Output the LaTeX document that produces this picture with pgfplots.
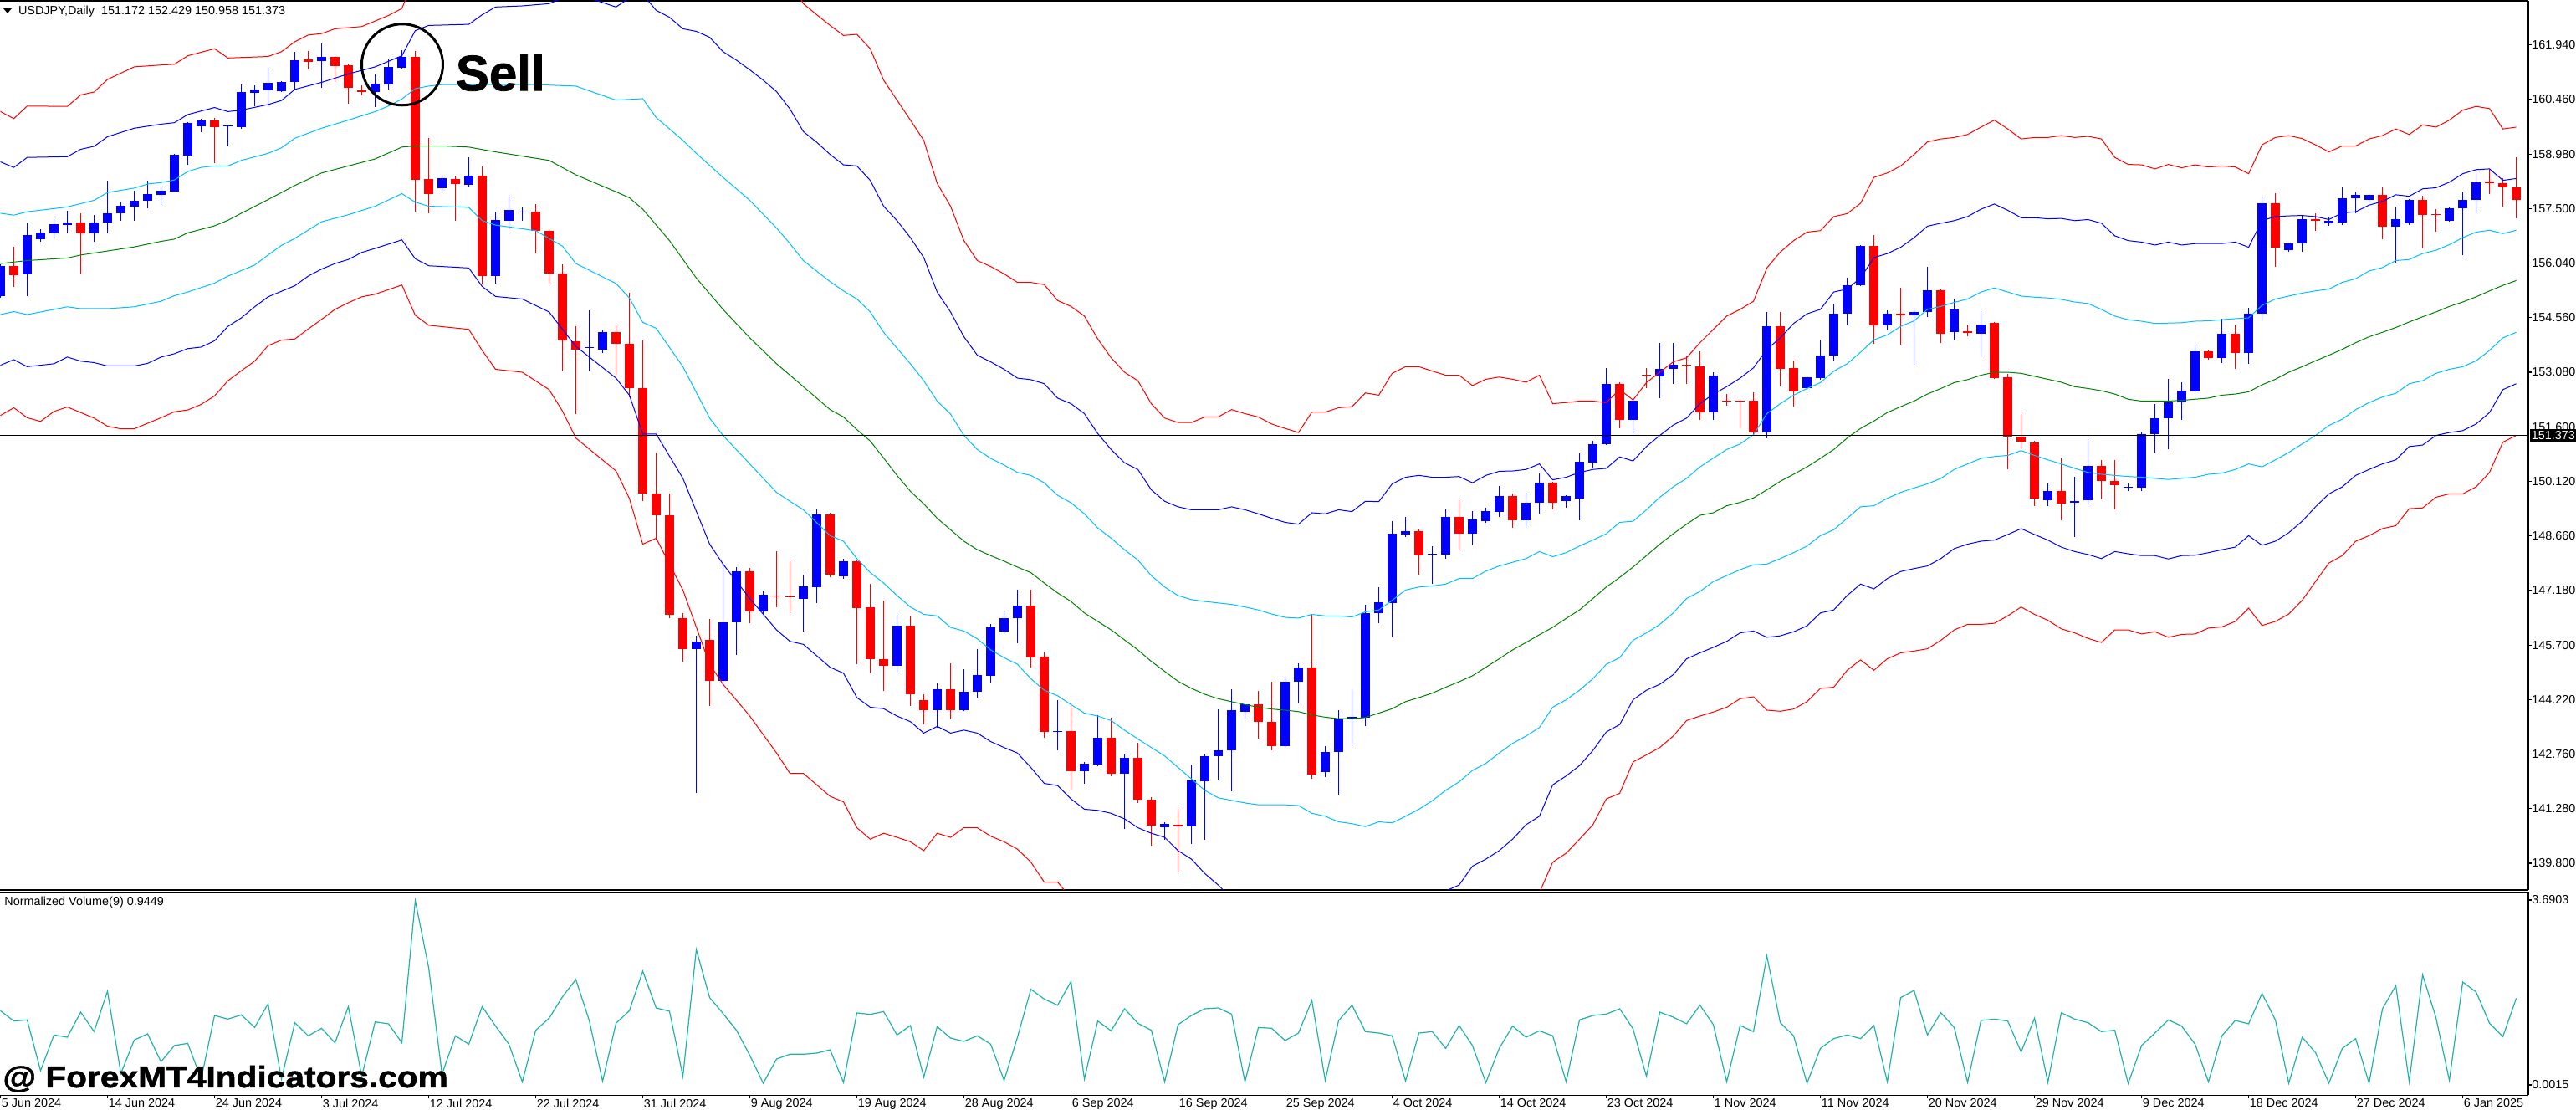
\documentclass[border=0pt]{standalone}
\usepackage{fontspec}
\setmainfont{Liberation Sans}
\newfontfamily\heavyfont{Liberation Sans Bold}[FakeBold=1.3]
\usepackage{graphicx}
\usepackage{pgfplots}
\pgfplotsset{compat=1.18}
\usepackage{pgfplotstable}

\definecolor{cblue}{RGB}{0,0,255}
\definecolor{cred}{RGB}{255,0,0}
\definecolor{ccyan}{RGB}{0,191,255}
\definecolor{cgreen}{RGB}{0,128,0}
\definecolor{cvol}{RGB}{32,178,170}
\newcommand{\smallfont}{\fontsize{7.2}{8}\selectfont}

\pgfplotstableread{
x o h l c
0 155.15 156.00 155.10 155.95
2 155.72 157.11 155.15 156.79
3 156.68 156.95 156.60 156.86
4 156.84 157.21 156.72 157.08
5 157.07 157.44 156.83 157.14
7 156.83 157.33 156.60 157.14
8 157.14 158.27 156.83 157.39
9 157.39 157.70 157.17 157.58
10 157.57 157.98 157.18 157.72
11 157.71 158.25 157.52 157.90
12 157.88 158.10 157.61 157.99
13 157.97 158.98 157.96 158.96
14 158.95 159.84 158.68 159.82
15 159.74 159.94 159.58 159.90
17 159.73 159.77 159.19 159.76
18 159.72 160.86 159.66 160.66
19 160.64 160.84 160.28 160.72
20 160.71 161.31 160.26 160.91
21 160.69 160.96 160.67 160.94
22 160.93 161.74 160.71 161.52
24 161.50 161.97 160.77 161.61
28 160.65 161.13 160.26 160.88
29 160.87 161.54 160.73 161.34
30 161.31 161.80 161.29 161.61
33 158.06 158.43 157.97 158.32
35 158.15 158.89 158.11 158.39
37 155.68 157.42 155.47 157.20
38 157.17 157.88 156.95 157.48
39 157.40 157.54 157.17 157.43
44 153.73 154.75 153.11 153.76
45 153.70 154.24 153.59 154.16
52 145.60 145.95 141.69 145.80
54 144.74 147.89 144.56 146.31
55 146.31 147.81 145.44 147.70
57 146.62 147.15 146.54 147.07
60 146.96 147.60 146.06 147.29
61 147.27 149.39 146.84 149.24
63 147.56 148.04 147.50 147.97
67 145.13 146.53 144.93 146.22
70 143.94 144.67 143.47 144.51
72 143.94 145.05 143.91 144.43
73 144.43 145.60 144.28 144.90
74 144.87 146.26 144.68 146.18
75 146.06 146.62 146.01 146.42
76 146.42 147.19 145.75 146.76
79 143.35 144.22 142.85 143.38
81 142.28 142.54 141.96 142.50
82 142.47 143.81 142.42 143.19
84 142.23 142.73 140.72 142.65
87 140.78 140.90 140.44 140.86
89 140.79 142.47 140.33 142.03
90 142.01 142.76 140.44 142.70
91 142.70 143.97 142.05 142.85
92 142.85 144.51 141.74 143.94
93 143.89 144.10 143.69 144.09
96 142.96 144.87 142.92 144.72
97 144.72 145.21 144.12 145.10
99 142.27 142.96 142.14 142.81
100 142.81 143.94 141.65 143.71
101 143.72 144.51 142.96 143.75
102 143.74 146.80 143.52 146.57
103 146.57 147.27 146.29 146.85
104 146.83 149.05 145.91 148.71
105 148.70 149.16 148.62 148.79
107 148.15 148.38 147.35 148.18
108 148.15 149.36 148.04 149.16
110 148.71 149.32 148.40 149.10
111 149.05 149.42 149.00 149.33
112 149.31 150.01 149.16 149.73
114 149.08 149.83 148.87 149.56
115 149.56 150.35 149.25 150.10
117 149.60 149.76 149.42 149.73
118 149.67 150.88 149.08 150.65
119 150.63 151.22 150.48 151.13
120 151.14 153.20 151.11 152.77
122 151.79 152.38 151.44 152.30
124 152.97 153.88 152.38 153.16
125 153.16 153.88 152.77 153.28
128 151.99 153.08 151.79 153.00
132 151.45 154.71 151.30 154.32
135 152.64 152.97 152.61 152.94
136 152.92 153.96 152.88 153.53
137 153.53 154.94 153.39 154.67
138 154.67 155.63 154.35 155.43
139 155.43 156.52 155.40 156.50
141 154.35 154.75 154.21 154.66
143 154.63 154.83 153.28 154.71
144 154.71 155.93 154.58 155.29
146 154.16 155.06 153.96 154.77
148 154.13 154.74 153.54 154.38
153 149.62 150.06 149.47 149.87
155 149.56 150.26 148.63 149.60
156 149.61 151.27 149.53 150.55
159 149.96 150.06 149.86 149.99
160 149.95 151.45 149.86 151.41
161 151.41 152.23 150.91 151.84
162 151.84 152.89 150.99 152.27
163 152.27 152.80 151.79 152.58
164 152.57 153.82 152.54 153.65
166 153.47 154.52 153.34 154.12
168 153.59 154.83 153.31 154.67
169 154.67 157.80 154.47 157.65
171 156.38 156.59 156.33 156.56
172 156.56 157.31 156.33 157.21
174 157.10 157.29 157.03 157.17
175 157.12 158.08 157.07 157.79
176 157.79 157.96 157.39 157.88
177 157.73 157.90 157.65 157.88
179 157.01 157.57 156.05 157.23
180 157.11 157.77 157.07 157.73
183 157.18 157.54 157.15 157.52
184 157.51 157.96 156.24 157.73
185 157.73 158.47 157.37 158.22
}\upc

\pgfplotstableread{
x o h l c
1 155.95 156.47 155.38 155.70
6 157.12 157.39 155.73 156.83
16 159.90 159.96 158.74 159.72
23 161.54 161.76 161.27 161.48
25 161.61 161.64 160.93 161.37
26 161.38 161.42 160.34 160.78
27 160.71 160.83 160.57 160.65
31 161.61 161.77 157.42 158.28
32 158.30 159.42 157.38 157.91
34 158.30 158.40 157.18 158.17
36 158.40 158.64 155.45 155.68
40 157.42 157.63 156.29 156.91
41 156.91 156.95 155.46 155.76
42 155.76 155.99 153.11 153.93
43 153.92 154.32 151.96 153.70
46 154.16 154.36 153.00 153.84
47 153.84 155.23 152.41 152.64
48 152.66 153.93 149.59 149.80
49 149.80 150.91 148.54 149.21
50 149.21 149.80 146.42 146.53
51 146.43 146.57 145.26 145.60
53 145.83 146.40 144.05 144.74
56 147.70 147.78 146.29 146.62
58 147.05 148.23 146.73 147.02
59 147.02 147.97 146.57 146.99
62 149.24 149.28 147.53 147.61
64 147.97 148.01 145.18 146.71
65 146.73 147.35 144.93 145.33
66 145.33 146.91 144.45 145.13
68 146.22 146.49 144.05 144.37
69 144.22 144.36 143.55 143.94
71 144.51 145.21 143.69 143.94
77 146.76 147.19 145.10 145.36
78 145.38 145.53 143.19 143.35
80 143.38 144.05 141.80 142.28
83 143.19 143.74 142.16 142.23
85 142.65 143.05 141.43 141.51
86 141.51 141.58 140.28 140.82
88 140.84 141.26 139.58 140.80
94 144.09 144.47 143.16 143.63
95 143.63 144.72 142.85 142.96
98 145.10 146.53 142.08 142.19
106 148.79 148.82 147.61 148.12
109 149.16 149.62 148.28 148.71
113 149.73 149.80 148.87 149.08
116 150.10 150.12 149.36 149.54
121 152.77 152.80 151.56 151.79
123 153.02 153.19 152.65 152.98
126 153.29 153.50 152.77 153.26
127 153.23 153.65 151.79 151.99
129 152.31 152.49 152.18 152.28
130 152.31 152.32 151.56 152.28
131 152.30 152.54 151.37 151.45
133 154.32 154.71 152.69 153.16
134 153.19 153.39 152.15 152.57
140 156.50 156.78 153.85 154.35
142 154.66 155.37 153.82 154.63
145 155.29 155.33 153.88 154.13
147 154.20 154.38 154.05 154.15
149 154.41 154.44 152.89 152.92
150 152.95 153.03 150.45 151.34
151 151.34 151.96 150.99 151.20
152 151.19 151.22 149.47 149.67
154 149.87 150.76 149.08 149.52
157 150.55 150.71 149.64 150.13
158 150.13 150.71 149.36 150.03
165 153.65 153.70 153.42 153.47
167 154.12 154.36 153.16 153.59
170 157.65 157.93 155.94 156.44
173 157.21 157.39 156.91 157.18
178 157.88 158.08 156.67 157.01
181 157.73 157.85 156.44 157.34
182 157.36 157.49 156.87 157.33
186 158.24 158.58 157.91 158.20
187 158.19 158.32 157.57 158.07
188 158.07 158.89 157.25 157.73
}\dnc

\begin{document}
\begin{tikzpicture}
\useasboundingbox (0pt,0pt) rectangle (1540pt,663.5pt);

\begin{axis}[
  at={(0pt,131.5pt)}, anchor=south west, scale only axis,
  width=1511.5pt, height=531.5pt,
  xmin=-0.031, xmax=188.9, ymin=139.076, ymax=163.126,
  axis x line*=box, axis y line*=right,
  axis line style={black, line width=0.6pt},
  xtick=\empty,
  ytick={139.80,141.28,142.76,144.22,145.70,147.18,148.66,150.12,151.60,153.08,154.56,156.04,157.50,158.98,160.46,161.94},
  yticklabels={139.800,141.280,142.760,144.220,145.700,147.180,148.660,150.120,151.600,153.080,154.560,156.040,157.500,158.980,160.460,161.940},
  tick align=outside, major tick length=2pt,
  major tick style={black, line width=0.6pt},
  yticklabel style={font=\smallfont, anchor=west, inner sep=0pt},
  clip mode=individual,
]
% candles: wicks then bodies
\addplot[cblue, line width=0.7pt, mark=none, quiver={u=0, v=\thisrow{h}-\thisrow{l}}] table[x=x, y=l] {\upc};
\addplot[cred, line width=0.7pt, mark=none, quiver={u=0, v=\thisrow{h}-\thisrow{l}}] table[x=x, y=l] {\dnc};
\addplot[cblue, line width=5.25pt, mark=none, quiver={u=0, v=\thisrow{c}-\thisrow{o}}] table[x=x, y=o] {\upc};
\addplot[cred, line width=5.25pt, mark=none, quiver={u=0, v=\thisrow{c}-\thisrow{o}}] table[x=x, y=o] {\dnc};

% red upper
\addplot[cred, line width=0.5pt, mark=none] coordinates {(0,160.13) (1,159.94) (2,160.28) (5,160.27) (6,160.58) (7,160.66) (8,161.00) (10,161.34) (12,161.39) (13,161.41) (14,161.64) (16,161.83) (17,161.58) (20,161.62) (21,161.75) (22,162.02) (23,162.20) (24,162.24) (25,162.37) (27,162.43) (28,162.58) (29,162.73) (30,162.92) (31,163.80) (35,164.10) (41,165.00) (45,165.30) (50,165.40) (55,164.60) (59,163.70) (60,163.05) (61,162.75) (62,162.46) (63,162.19) (64,162.22) (65,161.83) (66,160.98) (67,160.44) (68,159.90) (69,159.35) (70,158.19) (71,157.57) (72,156.64) (73,156.10) (74,155.94) (75,155.74) (76,155.51) (77,155.51) (78,155.45) (79,155.02) (80,154.86) (81,154.60) (82,153.98) (83,153.47) (84,153.08) (85,152.85) (86,152.23) (87,151.84) (88,151.72) (89,151.72) (90,151.87) (91,151.87) (92,152.07) (93,151.96) (94,151.87) (95,151.68) (96,151.56) (97,151.45) (98,152.00) (99,152.00) (100,152.12) (101,152.15) (102,152.52) (103,152.46) (104,153.05) (105,153.23) (106,153.23) (107,153.11) (108,153.00) (109,153.00) (110,152.72) (111,152.89) (112,152.95) (113,152.89) (114,152.81) (115,153.00) (116,152.23) (117,152.26) (118,152.30) (119,152.30) (120,152.26) (121,152.61) (122,152.33) (123,152.80) (124,153.08) (125,153.36) (126,153.47) (127,153.88) (128,154.24) (129,154.60) (130,154.78) (131,155.00) (132,155.90) (133,156.33) (134,156.64) (135,156.87) (136,156.91) (137,157.29) (138,157.37) (139,157.65) (140,158.35) (141,158.47) (142,158.66) (143,158.97) (144,159.31) (145,159.39) (146,159.43) (147,159.51) (148,159.71) (149,159.90) (150,159.66) (151,159.39) (152,159.43) (153,159.43) (154,159.48) (155,159.43) (156,159.46) (157,159.39) (158,158.89) (159,158.70) (160,158.69) (161,158.58) (162,158.70) (163,158.61) (164,158.69) (165,158.63) (166,158.66) (167,158.63) (168,158.45) (169,159.23) (170,159.43) (171,159.48) (172,159.40) (173,159.23) (174,159.04) (175,159.20) (176,159.20) (177,159.39) (178,159.48) (179,159.66) (180,159.51) (181,159.77) (182,159.71) (183,159.90) (184,160.17) (185,160.27) (186,160.21) (187,159.66) (188,159.71)};
% blue upper
\addplot[cblue, line width=0.5pt, mark=none] coordinates {(0,158.77) (1,158.62) (2,158.89) (5,158.91) (6,159.11) (7,159.19) (8,159.45) (10,159.68) (12,159.79) (13,159.83) (14,160.05) (16,160.24) (17,160.13) (18,160.17) (20,160.32) (21,160.43) (22,160.73) (24,160.92) (26,161.15) (28,161.34) (29,161.49) (30,161.64) (31,162.32) (32,162.46) (35,162.49) (36,162.75) (37,162.96) (39,162.99) (41,163.05) (42,163.20) (44,163.20) (45,163.08) (46,162.96) (47,163.20) (48,163.30) (49,162.87) (50,162.68) (51,162.37) (52,162.30) (53,162.14) (54,161.75) (55,161.52) (56,161.26) (57,160.98) (58,160.67) (59,160.20) (60,159.59) (61,159.30) (62,158.97) (63,158.69) (64,158.66) (65,158.27) (66,157.57) (67,157.18) (68,156.72) (69,156.18) (70,155.25) (71,154.71) (72,154.04) (73,153.54) (74,153.36) (75,153.16) (76,152.92) (77,152.88) (78,152.77) (79,152.38) (80,152.23) (81,151.96) (82,151.42) (83,150.99) (84,150.63) (85,150.45) (86,149.90) (87,149.59) (88,149.44) (89,149.36) (90,149.36) (91,149.36) (92,149.44) (93,149.36) (94,149.25) (95,149.13) (96,149.02) (97,148.97) (98,149.28) (99,149.25) (100,149.36) (101,149.31) (102,149.59) (103,149.58) (104,150.06) (105,150.24) (106,150.29) (107,150.24) (108,150.24) (109,150.26) (110,150.09) (111,150.29) (112,150.40) (113,150.41) (114,150.45) (115,150.60) (116,150.17) (117,150.24) (118,150.37) (119,150.45) (120,150.48) (121,150.79) (122,150.68) (123,151.07) (124,151.37) (125,151.65) (126,151.84) (127,152.23) (128,152.49) (129,152.69) (130,152.92) (131,153.20) (132,153.70) (133,154.01) (134,154.40) (135,154.66) (136,154.78) (137,155.25) (138,155.33) (139,155.63) (140,156.18) (141,156.29) (142,156.46) (143,156.72) (144,157.03) (145,157.11) (146,157.18) (147,157.29) (148,157.49) (149,157.63) (150,157.46) (151,157.26) (152,157.26) (153,157.23) (154,157.24) (155,157.18) (156,157.21) (157,157.11) (158,156.77) (159,156.64) (160,156.60) (161,156.52) (162,156.60) (163,156.52) (164,156.56) (165,156.56) (166,156.56) (167,156.60) (168,156.46) (169,157.18) (170,157.29) (171,157.31) (172,157.32) (173,157.29) (174,157.21) (175,157.39) (176,157.42) (177,157.60) (178,157.70) (179,157.88) (180,157.84) (181,158.04) (182,158.07) (183,158.22) (184,158.45) (185,158.56) (186,158.58) (187,158.27) (188,158.32)};
% cyan upper
\addplot[ccyan, line width=0.5pt, mark=none] coordinates {(0,157.38) (1,157.33) (2,157.42) (5,157.55) (7,157.73) (8,157.94) (10,158.06) (11,158.17) (12,158.21) (13,158.28) (14,158.51) (15,158.62) (16,158.66) (17,158.66) (18,158.81) (20,159.00) (21,159.15) (22,159.41) (24,159.68) (26,159.90) (28,160.13) (29,160.28) (30,160.47) (31,160.75) (32,160.82) (33,160.86) (40,160.86) (43,160.82) (46,160.44) (48,160.48) (49,159.97) (51,159.35) (52,159.00) (54,158.35) (56,157.73) (58,156.98) (59,156.56) (60,156.10) (62,155.53) (63,155.28) (64,155.06) (65,154.71) (66,154.16) (67,153.73) (68,153.31) (69,152.85) (70,152.30) (71,151.95) (72,151.37) (73,150.99) (74,150.75) (75,150.57) (76,150.37) (77,150.29) (78,150.09) (79,149.75) (80,149.55) (81,149.25) (82,148.87) (83,148.59) (84,148.28) (85,148.00) (86,147.58) (87,147.27) (88,147.04) (89,146.93) (90,146.88) (91,146.84) (92,146.80) (93,146.73) (94,146.65) (95,146.54) (96,146.45) (97,146.43) (98,146.53) (99,146.49) (100,146.49) (101,146.46) (102,146.60) (103,146.65) (104,146.91) (105,147.19) (106,147.27) (107,147.30) (108,147.35) (109,147.50) (110,147.50) (111,147.70) (112,147.84) (113,147.94) (114,148.04) (115,148.23) (116,148.09) (117,148.20) (118,148.38) (119,148.54) (120,148.71) (121,149.02) (122,149.05) (123,149.36) (124,149.70) (125,149.98) (126,150.21) (127,150.52) (128,150.76) (129,150.99) (130,151.14) (131,151.39) (132,151.96) (133,152.23) (134,152.46) (135,152.64) (136,152.80) (137,153.11) (138,153.31) (139,153.62) (140,153.96) (141,154.09) (142,154.32) (143,154.47) (144,154.78) (145,154.86) (146,154.97) (147,155.06) (148,155.25) (149,155.36) (150,155.25) (151,155.14) (152,155.11) (153,155.09) (154,155.05) (155,154.98) (156,154.94) (157,154.78) (158,154.60) (159,154.50) (160,154.46) (161,154.40) (162,154.41) (163,154.42) (164,154.46) (165,154.47) (166,154.50) (167,154.53) (168,154.55) (169,154.89) (170,155.06) (171,155.14) (172,155.22) (173,155.28) (174,155.33) (175,155.51) (176,155.61) (177,155.82) (178,155.91) (179,156.10) (180,156.13) (181,156.29) (182,156.38) (183,156.53) (184,156.72) (185,156.87) (186,156.92) (187,156.83) (188,156.92)};
% green middle
\addplot[cgreen, line width=0.5pt, mark=none] coordinates {(0,156.02) (2,156.10) (5,156.17) (6,156.25) (8,156.36) (10,156.47) (12,156.62) (13,156.68) (14,156.85) (16,157.04) (17,157.19) (18,157.38) (20,157.75) (22,158.13) (24,158.47) (26,158.66) (28,158.85) (30,159.17) (31,159.20) (33,159.20) (35,159.17) (37,159.04) (41,158.81) (43,158.42) (46,157.96) (47,157.80) (48,157.49) (50,156.64) (52,155.63) (54,154.78) (56,154.01) (58,153.31) (60,152.69) (62,152.07) (63,151.87) (64,151.53) (65,151.22) (66,150.76) (67,150.29) (68,149.86) (69,149.52) (70,149.13) (71,148.82) (72,148.51) (73,148.28) (74,148.12) (75,147.97) (76,147.81) (77,147.66) (78,147.38) (79,147.11) (80,146.88) (81,146.57) (82,146.34) (83,146.11) (84,145.84) (85,145.57) (86,145.26) (87,144.99) (88,144.72) (89,144.53) (90,144.37) (91,144.25) (92,144.17) (93,144.09) (94,144.02) (95,143.97) (96,143.94) (97,143.90) (98,143.81) (99,143.75) (100,143.71) (101,143.71) (102,143.74) (103,143.86) (104,143.98) (105,144.17) (106,144.28) (107,144.40) (108,144.56) (109,144.71) (110,144.87) (111,145.10) (112,145.33) (113,145.57) (114,145.77) (115,145.98) (116,146.18) (117,146.42) (118,146.65) (119,146.96) (120,147.27) (121,147.53) (122,147.81) (123,148.12) (124,148.43) (125,148.71) (126,148.97) (127,149.21) (128,149.28) (129,149.47) (130,149.56) (131,149.68) (132,149.90) (133,150.13) (134,150.32) (135,150.52) (136,150.75) (137,150.99) (138,151.30) (139,151.56) (140,151.76) (141,151.99) (142,152.15) (143,152.30) (144,152.49) (145,152.64) (146,152.80) (147,152.88) (148,153.00) (149,153.08) (150,153.08) (151,153.05) (152,152.97) (153,152.89) (154,152.81) (155,152.69) (156,152.64) (157,152.58) (158,152.49) (159,152.35) (160,152.30) (161,152.30) (162,152.30) (163,152.32) (164,152.35) (165,152.38) (166,152.46) (167,152.49) (168,152.55) (169,152.74) (170,152.89) (171,153.08) (172,153.23) (173,153.39) (174,153.54) (175,153.70) (176,153.88) (177,154.04) (178,154.16) (179,154.29) (180,154.44) (181,154.58) (182,154.71) (183,154.86) (184,154.98) (185,155.12) (186,155.28) (187,155.43) (188,155.56)};
% cyan lower
\addplot[ccyan, line width=0.5pt, mark=none] coordinates {(0,154.64) (1,154.72) (2,154.64) (5,154.85) (6,154.80) (8,154.80) (10,154.85) (12,155.00) (13,155.15) (14,155.25) (16,155.49) (17,155.68) (18,155.83) (19,155.98) (20,156.25) (21,156.51) (22,156.70) (24,157.15) (26,157.34) (28,157.57) (30,157.91) (31,157.68) (32,157.57) (35,157.54) (36,157.18) (37,157.06) (40,156.91) (42,156.49) (43,156.02) (46,155.48) (47,155.09) (48,154.43) (49,154.27) (51,153.23) (53,151.84) (54,151.37) (56,150.60) (58,149.83) (59,149.59) (60,149.36) (62,148.66) (63,148.51) (64,148.04) (65,147.66) (66,147.38) (67,147.04) (68,146.73) (69,146.53) (70,146.49) (71,146.18) (72,146.08) (73,145.87) (74,145.57) (75,145.36) (76,145.18) (77,144.79) (78,144.48) (79,144.33) (80,144.09) (81,143.86) (82,143.78) (83,143.66) (84,143.40) (85,143.16) (86,142.93) (87,142.70) (88,142.39) (89,142.08) (90,141.77) (91,141.57) (92,141.50) (93,141.43) (94,141.38) (95,141.38) (96,141.38) (97,141.36) (98,141.15) (99,141.07) (100,140.92) (101,140.87) (102,140.79) (103,140.92) (104,140.89) (105,141.07) (106,141.26) (107,141.49) (108,141.77) (109,142.00) (110,142.31) (111,142.50) (112,142.78) (113,143.04) (114,143.24) (115,143.47) (116,144.02) (117,144.22) (118,144.48) (119,144.79) (120,145.18) (121,145.36) (122,145.83) (123,146.03) (124,146.26) (125,146.57) (126,146.96) (127,147.15) (128,147.42) (129,147.58) (130,147.74) (131,147.87) (132,147.89) (133,148.04) (134,148.20) (135,148.38) (136,148.66) (137,148.82) (138,149.13) (139,149.44) (140,149.47) (141,149.67) (142,149.83) (143,149.95) (144,150.06) (145,150.21) (146,150.45) (147,150.60) (148,150.75) (149,150.80) (150,150.83) (151,150.96) (152,150.83) (153,150.71) (154,150.60) (155,150.48) (156,150.37) (157,150.32) (158,150.29) (159,150.26) (160,150.24) (161,150.21) (162,150.18) (163,150.21) (164,150.24) (165,150.32) (166,150.35) (167,150.45) (168,150.60) (169,150.52) (170,150.71) (171,150.91) (172,151.14) (173,151.37) (174,151.64) (175,151.81) (176,152.07) (177,152.26) (178,152.41) (179,152.51) (180,152.77) (181,152.85) (182,153.05) (183,153.16) (184,153.23) (185,153.39) (186,153.67) (187,154.01) (188,154.16)};
% blue lower
\addplot[cblue, line width=0.5pt, mark=none] coordinates {(0,153.27) (1,153.42) (2,153.23) (4,153.31) (5,153.49) (6,153.38) (7,153.34) (8,153.25) (10,153.25) (11,153.32) (12,153.49) (13,153.58) (14,153.72) (15,153.76) (16,153.93) (17,154.32) (18,154.55) (19,154.85) (20,155.12) (21,155.27) (22,155.42) (23,155.68) (24,155.87) (25,156.02) (26,156.13) (27,156.32) (28,156.43) (30,156.66) (31,156.15) (32,155.96) (35,155.90) (36,155.40) (37,155.13) (39,155.06) (41,154.71) (42,154.24) (43,153.78) (46,152.92) (47,152.46) (48,151.41) (49,151.41) (51,150.21) (53,148.43) (54,147.89) (56,146.96) (58,146.11) (59,145.80) (60,145.72) (62,145.10) (63,144.94) (64,144.28) (65,144.02) (66,143.98) (67,143.78) (68,143.63) (69,143.32) (70,143.50) (71,143.32) (72,143.40) (73,143.32) (74,143.09) (75,142.93) (76,142.78) (77,142.39) (78,141.96) (79,141.90) (80,141.54) (81,141.26) (82,141.23) (83,141.15) (84,141.00) (85,140.76) (86,140.61) (87,140.50) (88,140.14) (89,139.91) (90,139.52) (91,139.21) (92,138.85) (96,138.20) (100,137.90) (104,138.20) (107,138.75) (108,139.05) (109,139.21) (110,139.72) (111,139.91) (112,140.14) (113,140.45) (114,140.84) (115,141.07) (116,141.92) (117,142.16) (118,142.44) (119,142.85) (120,143.35) (121,143.55) (122,144.22) (123,144.48) (124,144.64) (125,144.90) (126,145.33) (127,145.49) (128,145.64) (129,145.80) (130,146.03) (131,146.08) (132,145.91) (133,145.95) (134,146.06) (135,146.22) (136,146.57) (137,146.65) (138,147.04) (139,147.35) (140,147.22) (141,147.50) (142,147.69) (143,147.77) (144,147.84) (145,148.04) (146,148.31) (147,148.43) (148,148.51) (149,148.54) (150,148.69) (151,148.85) (152,148.69) (153,148.54) (154,148.35) (155,148.23) (156,148.15) (157,148.04) (158,148.23) (159,148.17) (160,148.12) (161,148.12) (162,148.03) (163,148.12) (164,148.13) (165,148.20) (166,148.28) (167,148.35) (168,148.66) (169,148.40) (170,148.51) (171,148.74) (172,149.05) (173,149.44) (174,149.79) (175,149.98) (176,150.29) (177,150.45) (178,150.60) (179,150.71) (180,151.07) (181,151.11) (182,151.37) (183,151.45) (184,151.50) (185,151.68) (186,151.99) (187,152.61) (188,152.77)};
% red lower
\addplot[cred, line width=0.5pt, mark=none] coordinates {(0,151.91) (1,152.12) (2,151.85) (3,151.75) (4,152.02) (5,152.14) (6,151.99) (7,151.84) (8,151.62) (9,151.55) (10,151.55) (11,151.70) (12,151.85) (13,152.01) (14,152.06) (15,152.21) (16,152.44) (17,152.85) (18,153.12) (19,153.38) (20,153.80) (21,153.95) (22,153.98) (23,154.25) (24,154.51) (25,154.78) (26,154.96) (27,155.12) (28,155.19) (30,155.44) (31,154.62) (32,154.35) (35,154.24) (36,153.67) (37,153.16) (39,153.08) (41,152.61) (42,152.03) (43,151.30) (46,150.41) (47,149.67) (48,148.43) (49,148.59) (51,147.19) (53,145.18) (54,144.64) (56,143.78) (58,142.78) (59,142.23) (60,142.23) (62,141.61) (63,141.46) (64,140.76) (65,140.45) (66,140.61) (67,140.50) (68,140.38) (69,140.14) (70,140.61) (71,140.50) (72,140.76) (73,140.76) (74,140.53) (75,140.38) (76,140.18) (77,139.83) (78,139.29) (79,139.29) (80,138.85) (85,137.80) (90,137.30) (95,137.00) (100,136.80) (105,137.20) (110,137.90) (115,139.00) (116,139.83) (117,140.07) (118,140.45) (119,140.84) (120,141.54) (121,141.69) (122,142.54) (123,142.73) (124,142.93) (125,143.24) (126,143.66) (127,143.78) (128,143.89) (129,144.02) (130,144.25) (131,144.30) (132,143.94) (133,143.91) (134,143.97) (135,144.17) (136,144.53) (137,144.56) (138,145.02) (139,145.30) (140,145.02) (141,145.33) (142,145.49) (143,145.54) (144,145.60) (145,145.83) (146,146.11) (147,146.26) (148,146.26) (149,146.29) (150,146.49) (151,146.73) (152,146.53) (153,146.37) (154,146.14) (155,146.03) (156,145.88) (157,145.77) (158,146.11) (159,146.11) (160,146.00) (161,146.06) (162,145.91) (163,145.99) (164,146.00) (165,146.16) (166,146.19) (167,146.34) (168,146.70) (169,146.23) (170,146.34) (171,146.54) (172,146.91) (173,147.42) (174,147.92) (175,148.12) (176,148.51) (177,148.66) (178,148.85) (179,148.93) (180,149.39) (181,149.41) (182,149.70) (183,149.79) (184,149.79) (185,149.98) (186,150.37) (187,151.19) (188,151.37)};
% current price line
\addplot[black, line width=0.5pt, mark=none] coordinates {(-1,151.373) (190,151.373)};

\draw[black, line width=1.5pt] (axis cs:30.03,161.40) circle[radius=24.25pt];
\node[anchor=base west, inner sep=0pt, font=\fontsize{30}{31}\selectfont\heavyfont] at (axis cs:34.0,160.70) {Sell};
\node[fill=black, text=white, anchor=west, inner sep=0pt, minimum height=7.5pt, minimum width=27.5pt, font=\smallfont, xshift=1pt] at (axis cs:188.9,151.373) {151.373};
\end{axis}

\begin{axis}[
  at={(0pt,8.8pt)}, anchor=south west, scale only axis,
  width=1511.5pt, height=121.55pt,
  xmin=-0.031, xmax=188.9, ymin=-0.207, ymax=3.851,
  axis x line*=box, axis y line*=right,
  axis line style={black, line width=0.6pt},
  xtick={0,8,...,184}, xtick pos=left,
  xticklabels={5 Jun 2024,14 Jun 2024,24 Jun 2024,3 Jul 2024,12 Jul 2024,22 Jul 2024,31 Jul 2024,9 Aug 2024,19 Aug 2024,28 Aug 2024,6 Sep 2024,16 Sep 2024,25 Sep 2024,4 Oct 2024,14 Oct 2024,23 Oct 2024,1 Nov 2024,11 Nov 2024,20 Nov 2024,29 Nov 2024,9 Dec 2024,18 Dec 2024,27 Dec 2024,6 Jan 2025},
  ytick={0.0015,3.6903}, yticklabels={0.0015,3.6903},
  tick align=outside, major tick length=2pt,
  major tick style={black, line width=0.6pt},
  xticklabel style={font=\smallfont, anchor=north west, inner sep=0pt, xshift=0.5pt},
  yticklabel style={font=\smallfont, anchor=west, inner sep=0pt},
  clip mode=individual,
]
\addplot[cvol, line width=0.6pt, mark=none] coordinates {(0,1.480) (1,1.274) (2,1.296) (3,0.284) (4,0.996) (5,0.951) (6,1.452) (7,1.063) (8,1.870) (9,0.228) (10,0.896) (11,1.018) (12,0.462) (13,0.785) (14,0.829) (15,0.117) (16,1.385) (17,1.313) (18,1.397) (19,1.146) (20,1.619) (21,0.117) (22,1.241) (23,0.979) (24,1.129) (25,0.840) (26,1.563) (27,0.172) (28,1.257) (29,1.219) (30,0.840) (31,3.678) (32,2.342) (33,0.217) (34,0.979) (35,0.812) (36,1.563) (37,1.174) (38,0.812) (39,0.061) (40,1.091) (41,1.330) (42,1.758) (43,2.103) (44,1.285) (45,0.072) (46,1.230) (47,1.480) (48,2.270) (49,1.536) (50,1.469) (51,0.172) (52,2.699) (53,1.742) (54,1.424) (55,1.091) (56,0.590) (57,0.033) (58,0.517) (59,0.612) (60,0.612) (61,0.634) (62,0.701) (63,0.050) (64,1.436) (65,1.408) (66,1.463) (67,0.996) (68,1.185) (69,0.156) (70,1.163) (71,0.935) (72,0.868) (73,0.979) (74,0.812) (75,0.089) (76,0.951) (77,1.908) (78,1.714) (79,1.591) (80,2.064) (81,0.117) (82,1.274) (83,1.079) (84,1.519) (85,1.230) (86,1.091) (87,0.061) (88,1.202) (89,1.385) (90,1.519) (91,1.536) (92,1.413) (93,0.061) (94,1.146) (95,1.129) (96,0.885) (97,1.035) (98,1.686) (99,0.089) (100,1.285) (101,1.591) (102,1.063) (103,1.035) (104,0.979) (105,0.078) (106,1.035) (107,1.063) (108,0.729) (109,1.185) (110,0.785) (111,0.045) (112,0.729) (113,1.174) (114,0.951) (115,1.079) (116,0.979) (117,0.061) (118,1.296) (119,1.385) (120,1.413) (121,1.519) (122,1.118) (123,0.172) (124,1.452) (125,1.352) (126,1.219) (127,1.591) (128,1.202) (129,0.061) (130,1.185) (131,1.063) (132,2.576) (133,1.241) (134,0.979) (135,0.033) (136,0.729) (137,0.924) (138,0.996) (139,0.924) (140,1.185) (141,0.061) (142,1.742) (143,1.886) (144,0.996) (145,1.441) (146,1.146) (147,0.050) (148,1.285) (149,1.313) (150,1.274) (151,0.657) (152,1.330) (153,0.050) (154,1.441) (155,1.313) (156,1.241) (157,1.063) (158,1.091) (159,0.028) (160,0.785) (161,1.035) (162,1.296) (163,1.174) (164,0.812) (165,0.061) (166,0.979) (167,1.285) (168,1.219) (169,1.825) (170,1.296) (171,0.033) (172,0.951) (173,0.645) (174,0.033) (175,0.729) (176,0.924) (177,0.033) (178,1.519) (179,1.981) (180,0.061) (181,2.198) (182,1.341) (183,0.089) (184,2.053) (185,1.853) (186,1.230) (187,0.963) (188,1.730)};
\end{axis}

% texts
\fill[black] (2pt,658.5pt) -- (7pt,658.5pt) -- (4.5pt,655.5pt) -- cycle;
\node[anchor=base west, inner sep=0pt, font=\smallfont] at (10.85pt,654.75pt) {USDJPY,Daily\hspace{4pt}151.172 152.429 150.958 151.373};
\node[anchor=base west, inner sep=0pt, font=\smallfont] at (2.5pt,122.2pt) {Normalized Volume(9) 0.9449};
\node[anchor=base west, inner sep=0pt, font=\fontsize{18}{20}\selectfont\heavyfont] at (1.5pt,13.5pt) {\scalebox{1.13}[1]{@ ForexMT4Indicators.com}};
\end{tikzpicture}
\end{document}
